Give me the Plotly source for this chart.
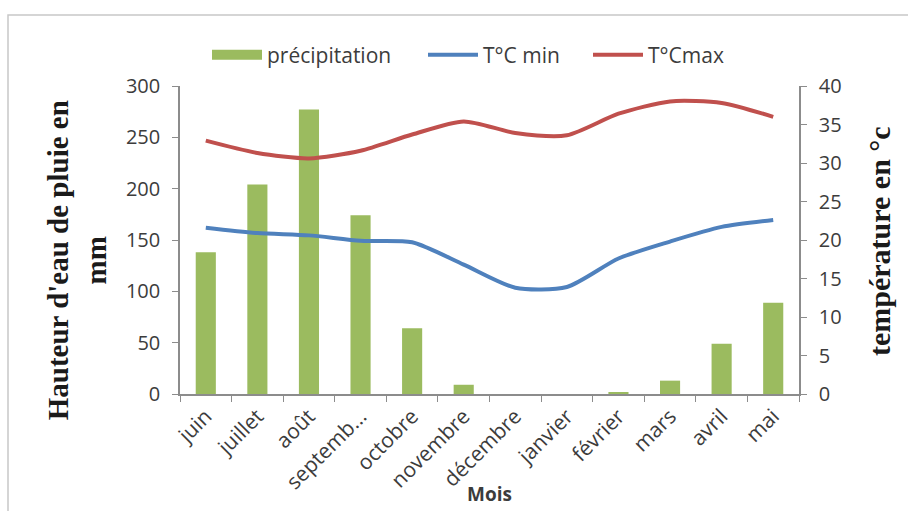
import plotly.graph_objects as go

months = ["juin", "juillet", "août", "septembre", "octobre", "novembre",
          "décembre", "janvier", "février", "mars", "avril", "mai"]
month_labels = ["juin", "juillet", "août", "septemb...", "octobre", "novembre",
                "décembre", "janvier", "février", "mars", "avril", "mai"]
precipitation = [138, 204, 277, 174, 64, 9, 0, 0, 1, 13, 49, 89]
t_min = [21.6, 20.9, 20.6, 19.9, 19.7, 16.8, 13.8, 13.9, 17.6, 19.8, 21.7, 22.6]
t_max = [32.9, 31.3, 30.6, 31.6, 33.7, 35.4, 33.9, 33.6, 36.4, 38.0, 37.8, 36.0]

SANS = "'Open Sans', Lato, sans-serif"
SERIF = "'Liberation Serif', 'Times New Roman', serif"
TICK_FONT = dict(family=SANS, size=20, color="#3c3c3c")
XTICK_FONT = dict(family=SANS, size=21, color="#3c3c3c")
AX = "#8c8c8c"
GREEN = "#9bbb5f"
LEG_FONT = dict(family=SANS, size=21, color="#3c3c3c")

fig = go.Figure()
fig.add_trace(go.Bar(x=months, y=precipitation, name="précipitation", showlegend=False,
                     marker=dict(color=GREEN, line=dict(width=0)), width=0.39))
# legend key for the bars (wide rectangle as in the original legend)
fig.add_trace(go.Scatter(x=[None], y=[None], name="précipitation", mode="lines",
                         line=dict(color=GREEN, width=16), legend="legend"))
fig.add_trace(go.Scatter(x=months, y=t_min, name="T°C min", yaxis="y2", mode="lines",
                         line=dict(color="#4f81bd", width=4, shape="spline", smoothing=0.7),
                         legend="legend2"))
fig.add_trace(go.Scatter(x=months, y=t_max, name="T°Cmax", yaxis="y2", mode="lines",
                         line=dict(color="#c0504d", width=4, shape="spline", smoothing=0.7),
                         legend="legend3"))

leg_common = dict(orientation="h", xanchor="left", y=1.10, yanchor="middle",
                  font=LEG_FONT, bgcolor="rgba(0,0,0,0)", itemwidth=50)

fig.update_layout(
    width=908, height=511,
    margin=dict(l=180, r=109, t=86, b=117),
    paper_bgcolor="white", plot_bgcolor="white",
    showlegend=True,
    legend=dict(x=(207 - 180) / 619, **leg_common),
    legend2=dict(x=(423 - 180) / 619, **leg_common),
    legend3=dict(x=(588 - 180) / 619, **leg_common),
    xaxis=dict(type="category", tickvals=months, ticktext=month_labels, tickangle=-45,
               tickfont=XTICK_FONT, showline=True, linecolor=AX, linewidth=1.5,
               ticks="outside", tickson="boundaries", ticklen=6, tickcolor=AX,
               showgrid=False, zeroline=False),
    yaxis=dict(range=[0, 300], dtick=50, tickfont=TICK_FONT, showline=True,
               linecolor=AX, linewidth=1.5, ticks="outside", ticklen=6, tickcolor=AX,
               showgrid=False, zeroline=False, ticklabelstandoff=8),
    yaxis2=dict(range=[0, 40], dtick=5, overlaying="y", side="right", tickfont=TICK_FONT,
                showline=True, linecolor=AX, linewidth=1.5, ticks="outside", ticklen=6,
                tickcolor=AX, showgrid=False, zeroline=False, ticklabelstandoff=8),
)

fig.add_annotation(text="<b>Hauteur d'eau de pluie en<br>mm</b>", textangle=-90,
                   xref="paper", yref="paper", x=-0.166, y=0.435,
                   xanchor="center", yanchor="middle", showarrow=False,
                   font=dict(family=SERIF, size=29, color="#1a1a1a"))
fig.add_annotation(text="<b>température en °c</b>", textangle=-90,
                   xref="paper", yref="paper", x=1.131, y=0.497,
                   xanchor="center", yanchor="middle", showarrow=False,
                   font=dict(family=SERIF, size=30, color="#1a1a1a"))
fig.add_annotation(text="<b>Mois</b>", xref="paper", yref="paper", x=0.5008,
                   y=(394 - 494) / 308,
                   xanchor="center", yanchor="middle", showarrow=False,
                   font=dict(family=SANS, size=19, color="#3c3c3c"))

# Chart area frame
fig.add_shape(type="rect", xref="paper", yref="paper",
              x0=(8 - 180) / 619, x1=(990 - 180) / 619,
              y0=(394 - 560) / 308, y1=(394 - 15) / 308,
              line=dict(color="#c8c8c8", width=1.5), layer="below")

fig.write_html("out.html")
